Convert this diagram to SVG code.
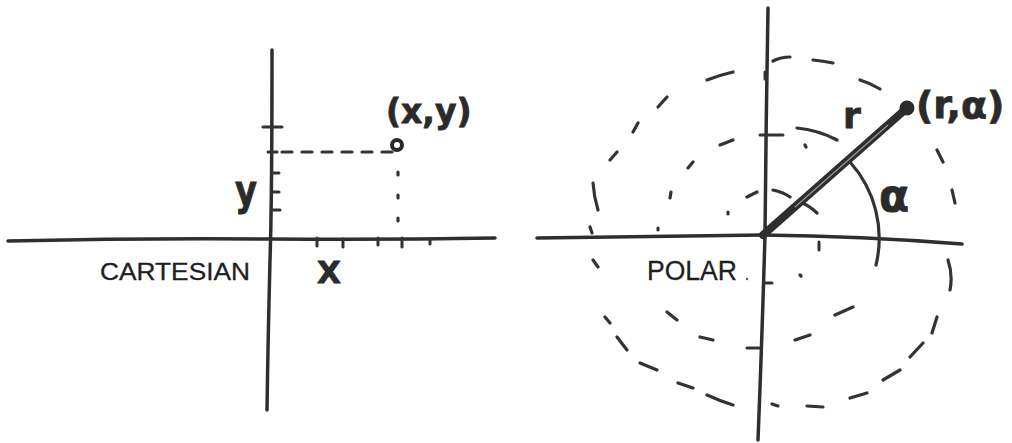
<svg xmlns="http://www.w3.org/2000/svg" width="1012" height="443" viewBox="0 0 1012 443">
<style>
.ax{fill:none;stroke:#2e2e2e;stroke-width:3.5;stroke-linecap:round}
.tk{fill:none;stroke:#333;stroke-width:3;stroke-linecap:round}
.ds{fill:none;stroke:#333;stroke-width:3.2;stroke-linecap:round}
.lbl{font-family:"Liberation Sans",Arial,sans-serif;fill:#1e1e1e;stroke:#1e1e1e;stroke-width:0.3}
.hw{font-family:"DejaVu Sans",sans-serif;font-weight:bold;fill:#2a2a2a;stroke:#2a2a2a;stroke-width:0.8}
</style>
<rect width="1012" height="443" fill="#fff"/>
<g id="cartesian">
  <g id="cart-axes">
    <path class="ax" d="M8,241 Q140,238 271,239 Q380,240 495,238"/>
    <path class="ax" d="M272,50 Q272,200 270,260 Q268,340 267,410"/>
  </g>
  <g id="cart-ticks">
    <path class="tk" d="M263,127 H282 M268,152 H277 M272,173 H279 M272,192 H279 M272,210 H280"/>
    <path class="tk" d="M317,238 V246 M343,239 V247 M378,238 V245 M402,238 V247 M430,239 V244"/>
  </g>
  <g id="cart-guides">
    <path class="ds" d="M282,152 H392" stroke-dasharray="10 10"/>
    <path class="ds" stroke-width="3.6" d="M398,172 V238" stroke-dasharray="3 20"/>
  </g>
  <g id="cart-point">
    <circle cx="397" cy="145" r="5" fill="none" stroke="#2a2a2a" stroke-width="4"/>
    <text class="hw" x="386" y="123" font-size="33">(x,y)</text>
  </g>
  <text class="hw" x="235" y="205" font-size="42" textLength="22" lengthAdjust="spacingAndGlyphs">y</text>
  <text class="hw" x="317" y="283" font-size="31">X</text>
  <text class="lbl" x="100" y="280" font-size="24" textLength="150" lengthAdjust="spacingAndGlyphs">CARTESIAN</text>
</g>
<g id="polar">
  <g id="polar-axes">
    <path class="ax" d="M537,238 Q650,237 763,235 Q860,236 962,244"/>
    <path class="ax" d="M768,8 Q766,120 765,235 Q762,340 758,440"/>
  </g>
  <g id="polar-ticks">
    <path class="tk" d="M760,135 H783 M765,72 V79 M764,283 H772 M747,348 H760 M819,242 V250"/>
  </g>
  <g id="circle-large">
    <path class="ds" d="M773,61 Q781,57 790,57 M813,60 Q823,61 833,63 M860,80 Q870,83 880,89 M937,150 L943,162 M952,190 L955,203 M948,260 Q953,275 950,290 M937,317 L932,333 M923,343 L910,357 M900,370 L883,380 M867,393 L850,398 M823,407 L807,406 M772,404 L778,406 M707,395 Q720,401 733,405 M678,383 L693,388 M640,363 L657,370 M617,337 L627,350 M605,317 L610,323 M593,260 L598,267 M590,227 L592,233 M593,183 Q594,197 598,210 M610,160 L617,152 M633,132 L638,123 M658,107 L667,97 M707,80 Q720,75 733,72"/>
  </g>
  <g id="circle-middle">
    <path class="ds" d="M797,128 Q818,130 837,140 M805,145 L806,147 M720,145 L733,140 M688,168 L693,162 M670,198 L671,192 M658,228 L658,230 M667,312 L677,320 M700,337 L713,340 M795,340 L810,335 M835,315 L853,307"/>
    <path class="ds" stroke-width="3.5" d="M850,162 A114,114 0 0 1 876,265"/>
  </g>
  <g id="circle-small">
    <path class="ds" d="M728,212 L728,214 M747,197 L757,192 M773,190 Q783,192 790,197 M800,202 Q810,206 817,213 M800,275 L801,276"/>
  </g>
  <g id="radius">
    <path d="M763,235 L907,108" fill="none" stroke="#2e2e2e" stroke-width="8" stroke-linecap="round"/>
    <path d="M795,207 L888,125" fill="none" stroke="#9a9a9a" stroke-width="1.2"/>
    <circle cx="907" cy="108" r="7.5" fill="#2a2a2a"/>
  </g>
  <text class="hw" x="843" y="128" font-size="36">r</text>
  <text class="hw" x="879" y="211" font-size="44">α</text>
  <text class="hw" x="916" y="118" font-size="38">(r,α)</text>
  <text class="lbl" x="647" y="280" font-size="27" textLength="90" lengthAdjust="spacingAndGlyphs">POLAR</text>
  <circle cx="747" cy="279" r="1.2" fill="#555"/>
</g>
</svg>
